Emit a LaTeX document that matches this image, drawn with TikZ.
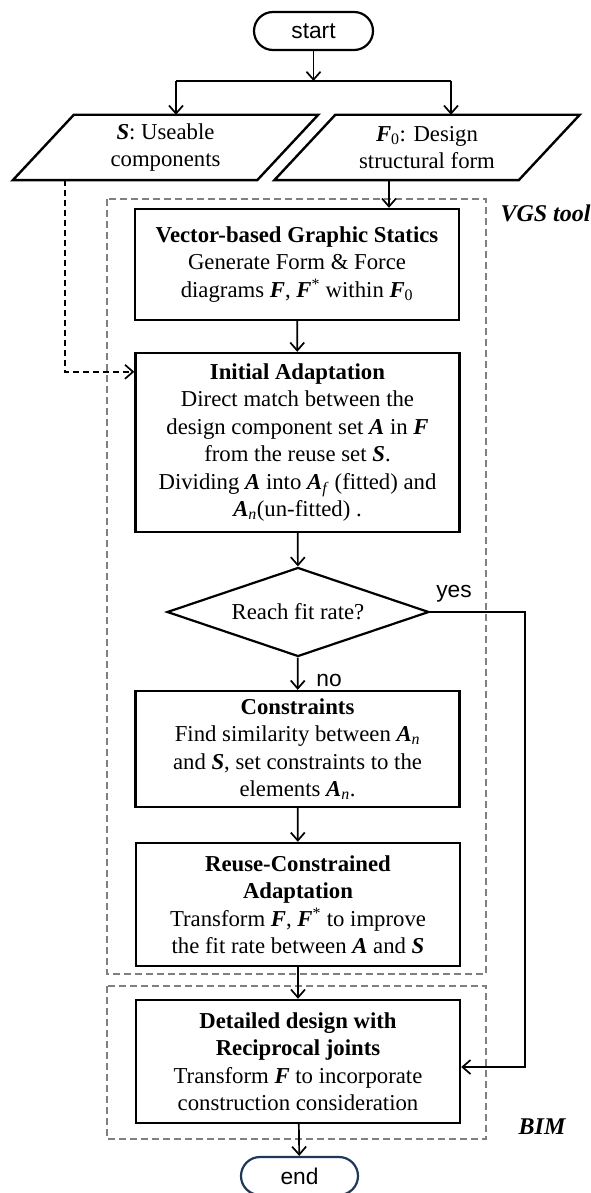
\documentclass[tikz,border=0pt]{standalone}
\usepackage{fontspec}
\setmainfont{Liberation Serif}
\newfontfamily\arialfont{Liberation Sans}
\usetikzlibrary{shapes.geometric,arrows.meta,calc}
\newcommand\vb[1]{\textbf{\textit{#1}}}
\newcommand\sbs[1]{\textsubscript{#1}}
\begin{document}
\begin{tikzpicture}[x=1pt,y=-1pt,
  txt/.style={font=\fontsize{22.75}{27.5}\selectfont},
  sanstxt/.style={font=\arialfont\fontsize{22.75}{27.5}\selectfont},
  procbox/.style={txt, draw, line width=2.4pt, minimum width=324pt, align=center, inner sep=0pt},
  term/.style={sanstxt, draw, line width=2.2pt, rounded corners=19pt, minimum width=119pt, minimum height=38pt, inner sep=0pt},
  iotext/.style={txt, minimum width=244pt, minimum height=65pt, inner sep=0pt, align=center},
  iobox/.style={line width=2.4pt, line join=miter},
  decide/.style={txt, draw, line width=2.2pt, diamond, aspect=2.94, minimum width=262pt, minimum height=89pt, inner sep=0pt},
  arr/.style={line width=1.7pt, -{Straight Barb[length=8pt,width=14pt,line width=1.7pt]}},
  plain/.style={line width=1.7pt},
  dasharr/.style={line width=1.7pt, dash pattern=on 6pt off 4pt, -{Straight Barb[length=8pt,width=14pt,line width=1.7pt]}},
  group/.style={draw=black!50, line width=1.6pt, dash pattern=on 7pt off 4pt},
  grouplab/.style={font=\fontsize{24}{28}\selectfont\bfseries\itshape},
  lab/.style={sanstxt, inner sep=0pt}
]
\clip (0,0) rectangle (590,1193);
\fill[white] (0,0) rectangle (590,1193);

% group frames
\draw[group] (107,199) rectangle (486,974);
\draw[group] (107,986) rectangle (486,1139);
\node[grouplab, anchor=west] (vgslab) at (497,213) {VGS tool};
\node[grouplab] (bimlab) at (542,1127) {BIM};

% nodes
\node[term] (start) at (313.5,31) {start};
\node[iotext] (S) at (165.5,147.5) {\vb{S}: Useable\\components};
\node[iotext] (F0) at (427,147.5) {\vb{F}\sbs{0}: Design\\structural form};
\foreach \n in {S,F0}{
  \draw[iobox] ($(\n.north west)+(30.5,0)$) -- ($(\n.north east)+(30.5,0)$)
     -- ($(\n.south east)+(-30.5,0)$) -- ($(\n.south west)+(-30.5,0)$) -- cycle;
}
\node[procbox, minimum height=111pt] (vgs) at (297,264.5)
  {\textbf{Vector-based Graphic Statics}\\Generate Form \& Force\\diagrams \vb{F}, \vb{F}\textsuperscript{*} within \vb{F}\sbs{0}};
\node[procbox, minimum height=179pt] (init) at (297.5,442.5)
  {\textbf{Initial Adaptation}\\Direct match between the\\design component set \vb{A} in \vb{F}\\from the reuse set \vb{S}.\\Dividing \vb{A} into \vb{A}\sbs{\textit{f}} (fitted) and\\\vb{A}\sbs{\textit{n}}(un-fitted) .};
\node[decide] (dia) at (298,612) {Reach fit rate?};
\node[procbox, minimum height=116pt] (cons) at (297.5,749)
  {\textbf{Constraints}\\Find similarity between \vb{A}\sbs{\textit{n}}\\and \vb{S}, set constraints to the\\elements \vb{A}\sbs{\textit{n}}.};
\node[procbox, minimum height=123pt] (reuse) at (298,904.5)
  {\textbf{Reuse-Constrained}\\\textbf{Adaptation}\\Transform \vb{F}, \vb{F}\textsuperscript{*} to improve\\the fit rate between \vb{A} and \vb{S}};
\node[procbox, minimum height=123pt] (det) at (298,1061.5)
  {\textbf{Detailed design with}\\\textbf{Reciprocal joints}\\Transform \vb{F} to incorporate\\construction consideration};
\node[term, draw={rgb,255:red,31;green,56;blue,90}, minimum width=117pt] (end) at (299.5,1176) {end};

\node[lab] (yes) at (454,594) {yes};
\node[lab] (no) at (329,680) {no};

% helper coordinates
\coordinate (jl) at (176,81);
\coordinate (jr) at (451,81);
\coordinate (dx) at (65,0);
\coordinate (fx) at (389,0);
\coordinate (ia) at ($(init.north west)+(0,20)$);
\coordinate (yc) at ($(dia.east)+(95,0)$);
\coordinate (ye) at ($(det.east)+(0,5.5)$);

% connectors
\draw[arr] (start.south) -- (start.south |- jl);
\draw[plain] (jl) -- (jr);
\draw[arr] (jl) -- (jl |- S.north);
\draw[arr] (jr) -- (jr |- F0.north);
\draw[dasharr] (S.south -| dx) |- (ia);
\draw[arr] (F0.south -| fx) -- (fx |- vgs.north);
\draw[arr] (vgs) -- (init);
\draw[arr] (init) -- (dia);
\draw[arr] (dia) -- (cons);
\draw[arr] (cons) -- (reuse);
\draw[arr] (reuse) -- (det);
\draw[arr] (det) -- (end);
\draw[arr] (dia.east) -- (yc) |- (ye);
\end{tikzpicture}
\end{document}
